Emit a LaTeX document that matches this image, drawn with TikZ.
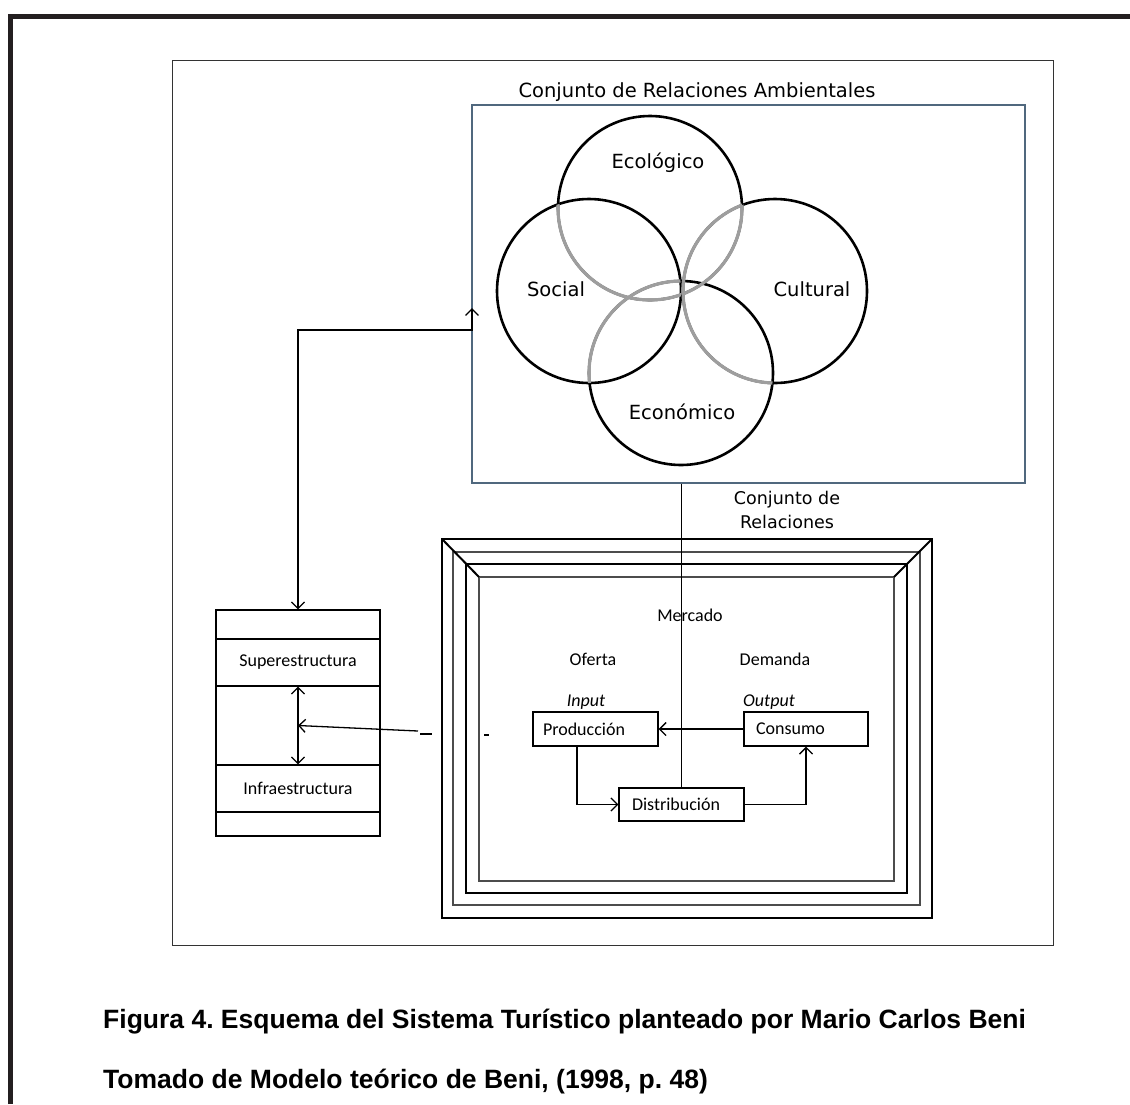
\documentclass[tikz,border=0pt]{standalone}
\usepackage{fontspec}
\setmainfont{Liberation Sans}
\newfontfamily\tahomalike{DejaVu Sans}
\newfontfamily\calibrilike{Carlito}
\usetikzlibrary{arrows.meta}
\definecolor{pageink}{RGB}{35,31,32}
\definecolor{ambblue}{RGB}{80,104,126}
\frenchspacing

\begin{document}
\begin{tikzpicture}[x=1pt,y=-1pt,
  ln/.style={line width=1.3pt,black},
  tipped/.style={ln, >={Straight Barb[length=6.5pt,width=13pt,line width=1.3pt]}},
  ring/.style={line width=2.6pt,black},
  ringback/.style={line width=3.2pt,black!38},
  uplabel/.style={font=\tahomalike\fontsize{19.5}{22}\selectfont, inner sep=0pt},
  lowlabel/.style={font=\calibrilike\fontsize{18}{20}\selectfont, inner sep=0pt},
  cellbox/.style={draw, line width=1.2pt, minimum width=164pt, inner sep=0pt, lowlabel},
  procbox/.style={draw, line width=1.3pt, inner sep=0pt, lowlabel, minimum height=34pt, align=left},
  framebar/.style={line width=2pt},
  captionfont/.style={font=\bfseries\fontsize{26.5}{30}\selectfont, inner sep=0pt, anchor=base west},
]
\useasboundingbox (0,0) rectangle (1130,1104);
\fill[white] (0,0) rectangle (1130,1104);

% page border (top and left)
\draw[line width=5.5pt, pageink] (10.5,1104) -- (10.5,16.5) -- (1130,16.5);

% figure frame
\draw[line width=1pt, black!80] (172,60) rectangle (1053,945);

% environmental relations box
\node[draw=ambblue, line width=1.2pt, minimum width=553pt, minimum height=378pt, inner sep=0pt] (amb) at (748.5,294) {};
\node[uplabel] (ambtitle) at (697,92) {Conjunto de Relaciones Ambientales};

% four overlapping circles
\coordinate (ceco) at (650,208);
\coordinate (csoc) at (589,291);
\coordinate (ccul) at (775,291);
\coordinate (ceon) at (681,373);
\foreach \c in {ceco,csoc,ccul,ceon}
  \draw[ring] (\c) circle[radius=92pt];
\begin{scope}
  \clip (csoc) circle[radius=92pt];
  \draw[ringback] (ceco) circle[radius=92pt];
  \draw[ringback] (ceon) circle[radius=92pt];
\end{scope}
\begin{scope}
  \clip (ccul) circle[radius=92pt];
  \draw[ringback] (ceco) circle[radius=92pt];
\end{scope}
\begin{scope}
  \clip (ceco) circle[radius=92pt];
  \draw[ringback] (ccul) circle[radius=92pt];
\end{scope}
\begin{scope}
  \clip (ceon) circle[radius=92pt];
  \draw[ringback] (ccul) circle[radius=92pt];
\end{scope}
\node[uplabel] (teco) at (658,163) {Ecológico};
\node[uplabel] (tsoc) at (556,289) {Social};
\node[uplabel] (tcul) at (812,289) {Cultural};
\node[uplabel] (teon) at (682,412) {Económico};

% nested frames of the relations set
\foreach \L/\R/\T/\B/\col in {442/932/539/918/black, 453/920/552/905/black!70, 466/907/564/893/black, 479/894/577/881/black!70}
  \draw[framebar, \col] (\L,\T) rectangle (\R,\B);
\draw[framebar] (442,539) -- (479,577);
\draw[framebar] (932,539) -- (894,577);
\node[uplabel, font=\tahomalike\fontsize{17.5}{24}\selectfont, align=center] (relset) at (787,510) {Conjunto de\\Relaciones};

% market
\node[lowlabel] (mkt) at (690,615) {Mercado};
\node[lowlabel] (ofe) at (593,659) {Oferta};
\node[lowlabel] (dem) at (775,659) {Demanda};
\node[lowlabel, font=\calibrilike\itshape\fontsize{18}{20}\selectfont] (inp) at (586,702) {Input};
\node[lowlabel, font=\calibrilike\itshape\fontsize{18}{20}\selectfont] (outp) at (769,702) {Output};
\node[procbox, text width=105pt, inner xsep=10pt] (prod) at (595.5,729) {Producción};
\node[procbox, text width=112pt, inner xsep=6pt] (cons) at (806,729) {\hspace*{6pt}Consumo};
\node[procbox, text width=113pt, inner xsep=6pt, minimum height=33pt] (dist) at (681.5,804.5) {\hspace*{7pt}Distribución};

\draw[ln] (amb.south -| dist.north) -- (dist.north);
\draw[tipped,->] (cons.west) -- (prod.east);
\draw[tipped,->] ([xshift=-18.5pt]prod.south) |- (dist.west);
\draw[tipped,->] (dist.east) -| (cons.south);

% structure stack
\node[cellbox, minimum height=29pt] (s1) at (298,624.5) {};
\node[cellbox, minimum height=47pt] (s2) at (298,662.5) {Superestructura};
\node[cellbox, minimum height=79pt] (s3) at (298,725.5) {};
\node[cellbox, minimum height=47pt] (s4) at (298,788.5) {Infraestructura};
\node[cellbox, minimum height=24pt] (s5) at (298,824) {};
\draw[tipped,<->] (s2.south) -- (s4.north);

\coordinate (feed) at (418,731);
\draw[tipped,->] (feed) -- (s3.center);
\draw[line width=2pt] (420,734) -- (432,734);
\draw[line width=1.5pt] (484,735) -- (489,735);

\coordinate (elbow) at (472,330);
\coordinate (ambin) at (472,308);
\draw[tipped,<->] (s1.north) |- (elbow) -- (ambin);

% caption
\node[captionfont] (cap1) at (103,1028) {Figura 4. Esquema del Sistema Turístico planteado por Mario Carlos Beni};
\node[captionfont] (cap2) at (103,1088) {Tomado de Modelo teórico de Beni, (1998, p. 48)};
\end{tikzpicture}
\end{document}
